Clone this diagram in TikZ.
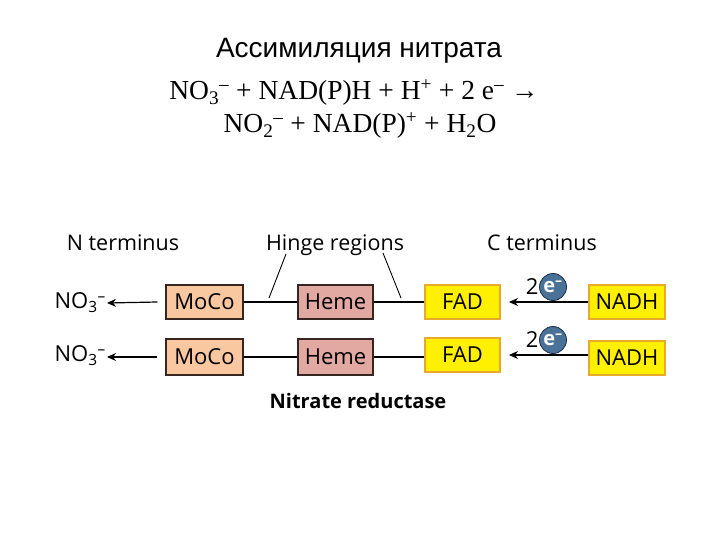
\documentclass[tikz,border=0pt]{standalone}
\usepackage{fontspec}
\setmainfont{Open Sans}
\newfontfamily\titlefont{Liberation Sans}
\newfontfamily\eqfont{Liberation Serif}
\usetikzlibrary{arrows.meta}
\definecolor{mocofill}{RGB}{249,199,160}
\definecolor{hemefill}{RGB}{226,168,162}
\definecolor{fadfill}{RGB}{255,240,0}
\definecolor{fadline}{RGB}{234,170,40}
\definecolor{boxline}{RGB}{55,38,32}
\definecolor{eball}{RGB}{74,114,152}
\definecolor{eline}{RGB}{30,45,70}
\newcommand{\lo}[1]{\textsubscript{#1}}
\newcommand{\hi}[1]{\textsuperscript{#1}}
\tikzset{
  domainbox/.style={draw=boxline, line width=1.2pt, minimum height=34pt, inner sep=0pt,
    font=\fontsize{22}{24}\selectfont},
  mocobox/.style={domainbox, fill=mocofill, minimum width=77pt},
  hemebox/.style={domainbox, fill=hemefill, minimum width=75pt},
  flavinbox/.style={domainbox, draw=fadline, line width=2pt, fill=fadfill, minimum width=75pt},
  headtext/.style={font=\fontsize{21.5}{24}\selectfont, anchor=base},
  link/.style={line width=1.5pt},
  flow/.style={line width=1.2pt, -{Stealth[length=9pt,width=8pt]}},
  electron/.style={circle, fill=eball, draw=eline, line width=0.8pt, minimum size=27pt,
    inner sep=0pt, text=white, font=\fontsize{20}{22}\selectfont\bfseries}
}

\begin{document}
\begin{tikzpicture}[x=1pt,y=-1pt]
			%%%%% START %%%%%
			\useasboundingbox (0,0) rectangle (720,540);
			
			\node[anchor=base] (title) at (359,58) {\titlefont\fontsize{28}{32}\selectfont Ассимиляция нитрата};
			\node[anchor=base] (eqA) at (354,100) {\eqfont\fontsize{27.5}{32}\selectfont NO\lo{3}\hi{–} + NAD(P)H + H\hi{+} + 2 e\hi{–} →};
			\node[anchor=base] (eqB) at (360,133) {\eqfont\fontsize{27.5}{32}\selectfont NO\lo{2}\hi{–} + NAD(P)\hi{+} + H\lo{2}O};
			
			\node[headtext] (nterm) at (123,250) {N terminus};
			\node[headtext] (hinge) at (335,250) {Hinge regions};
			\node[headtext] (cterm) at (542,250) {C terminus};
			
			% upper chain
			\node[mocobox] (moco1) at (204.5,302) {MoCo};
			\node[hemebox] (heme1) at (335.5,302) {Heme};
			\node[flavinbox] (fad1) at (462.5,302) {FAD};
			\node[flavinbox, minimum width=76pt] (nadh1) at (627,302) {NADH};
			\node[font=\fontsize{22}{24}\selectfont, anchor=east, inner sep=1pt] (no1) at (107,303) {NO\lo{3}\hi{–}};
			\node[electron] (ea) at (553,287) {e\hi{–}};
			\node[font=\fontsize{22}{24}\selectfont, anchor=east, inner sep=0.5pt] (twoA) at (ea.west) {2};
			
			\draw[link] (moco1) -- (heme1);
			\draw[link] (heme1) -- (fad1);
			\draw[flow] ([xshift=-8pt]moco1.west) -- (no1.east);
			\draw[flow] (nadh1.west) -- ([xshift=8pt]fad1.east);
			
			% lower chain
			\node[mocobox, minimum height=36pt] (moco2) at (204.5,357) {MoCo};
			\node[hemebox, minimum height=36pt] (heme2) at (335.5,357) {Heme};
			\node[flavinbox] (fad2) at (462.5,355) {FAD};
			\node[flavinbox, minimum width=76pt] (nadh2) at (627,358) {NADH};
			\node[font=\fontsize{22}{24}\selectfont, anchor=east, inner sep=1pt] (no2) at (107,356) {NO\lo{3}\hi{–}};
			\node[electron] (eb) at (553,340) {e\hi{–}};
			\node[font=\fontsize{22}{24}\selectfont, anchor=east, inner sep=0.5pt] (twoB) at (eb.west) {2};
			
			\draw[link, line width=2.6pt] (moco2) -- (heme2);
			\draw[link, line width=2.6pt] (heme2.east) -- (heme2.east -| fad2.west);
			\draw[flow] ([xshift=-8pt]moco2.west) -- (no2.east |- moco2.west);
			\draw[flow] (nadh2.west |- fad2.east) -- ([xshift=8pt]fad2.east);
			
			% hinge pointers
			\coordinate (hingeA) at (286,254);
			\coordinate (hingeB) at (383,253);
			\draw[line width=0.9pt] (hingeA) -- (269,298);
			\draw[line width=0.9pt] (hingeB) -- (401,298);
			
			\node[headtext, font=\fontsize{20}{22}\selectfont\bfseries] (enzyme) at (358,408) {Nitrate reductase};
			%%%%% END %%%%%
\end{tikzpicture}
\end{document}
